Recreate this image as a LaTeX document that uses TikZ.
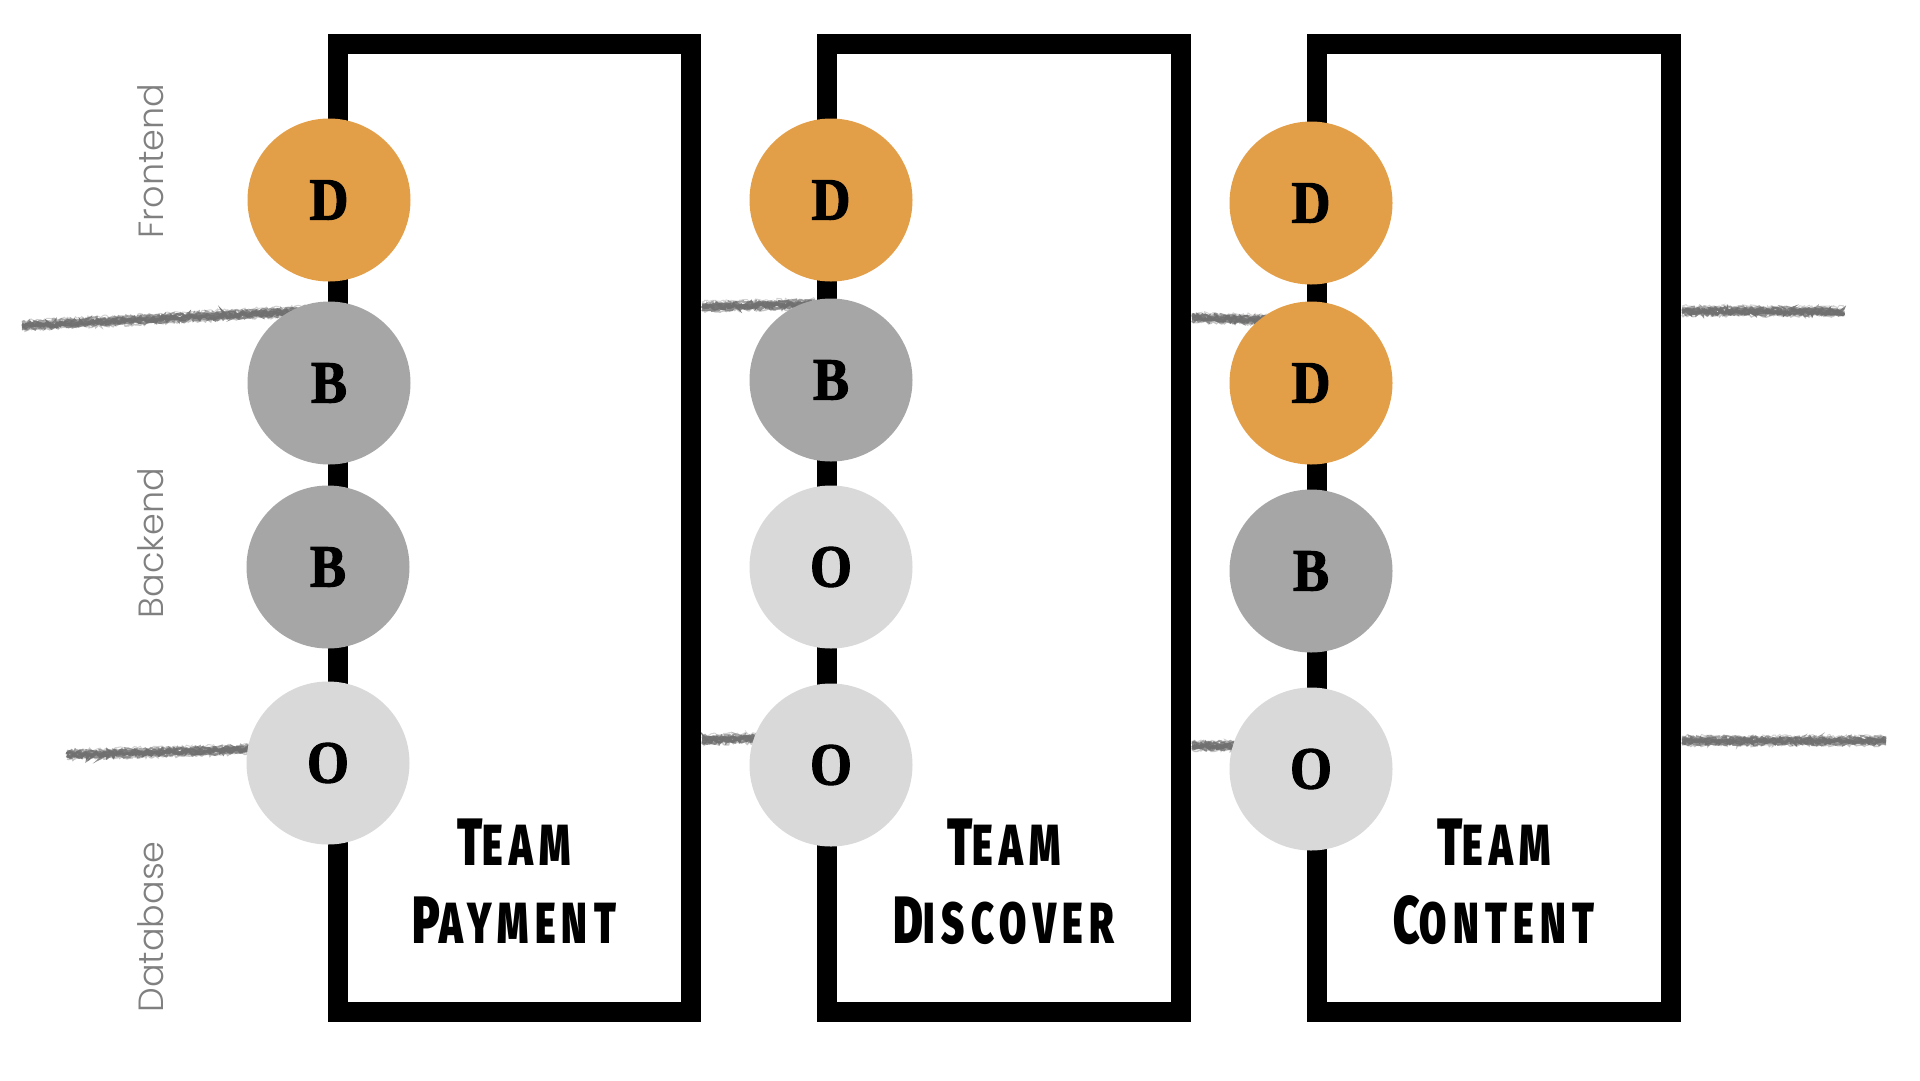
\documentclass[tikz,border=0pt]{standalone}
\usepackage{fontspec}
\usetikzlibrary{decorations.pathmorphing}
\setmainfont{Liberation Serif}
\IfFontExistsTF{Poppins Light}{\newfontfamily\labelfont{Poppins Light}\def\labelsize{35}}{%
  \IfFontExistsTF{Lato Light}{\newfontfamily\labelfont{Lato Light}\def\labelsize{38.5}}{%
    \newfontfamily\labelfont{Lato}\def\labelsize{38.5}}}
\IfFontExistsTF{Fira Sans Black}{\newfontfamily\teamfont[FakeStretch=0.68,LetterSpace=11]{Fira Sans Black}}{%
  \newfontfamily\teamfont[FakeStretch=0.7,FakeBold=1.5,LetterSpace=11]{Fira Sans Bold}}
\newfontfamily\letterfont[FakeStretch=0.9,FakeBold=1.8]{Liberation Serif Bold}
\definecolor{devcol}{RGB}{227,158,72}
\definecolor{backcol}{RGB}{166,166,166}
\definecolor{opscol}{RGB}{217,217,217}
\definecolor{brushgray}{RGB}{112,112,112}
\definecolor{labelgray}{RGB}{128,128,128}
\newcommand\tcap[1]{{\fontsize{67}{67}\selectfont #1}}
\newcommand\brushline[2]{%
  \foreach \dy/\lw/\op in {-5/1/0.3,-3.5/2/0.6,-2/2.5/0.85,-0.5/3/0.95,1/3/0.95,2.5/2.5/0.75,4/1.5/0.4}{%
    \draw[brushgray, line width=\lw pt, opacity=\op, shift={(0,\dy)},
      decorate, decoration={random steps, segment length=2pt, amplitude=1.6pt}]
      #1 -- #2;}}
\tikzset{
  member/.style={circle, minimum size=163pt, inner sep=0pt, text=black,
    font=\letterfont\fontsize{60}{60}\selectfont},
  devnode/.style={member, fill=devcol},
  backnode/.style={member, fill=backcol},
  opsnode/.style={member, fill=opscol},
  teambox/.style={draw=black, line width=20pt, minimum width=353.5pt,
    minimum height=968.3pt, inner sep=0pt},
  teamtext/.style={font=\teamfont\fontsize{58}{58}\selectfont,
    text=black, inner sep=0pt, anchor=base},
  layerlabel/.style={font=\labelfont\fontsize{\labelsize}{\labelsize}\selectfont,
    text=labelgray, rotate=90, inner sep=0pt}
}
\begin{document}
\begin{tikzpicture}[x=1pt, y=-1pt]
\pgfmathsetseed{7}
\useasboundingbox (0,0) rectangle (1920,1080);
\fill[white] (0,0) rectangle (1920,1080);
% brush strokes
\brushline{(22,326)}{(310,311)}
\brushline{(702,307)}{(815,304)}
\brushline{(1192,318)}{(1280,320)}
\brushline{(1682,311)}{(1843,312)}
\brushline{(67,755)}{(270,749)}
\brushline{(702,740)}{(770,738)}
\brushline{(1192,746)}{(1250,746)}
\brushline{(1682,741)}{(1886,741)}
% boxes
\node[teambox] (box1) at (514.25,527.85) {};
\node[teambox] (box2) at (1003.75,527.85) {};
\node[teambox] (box3) at (1493.75,527.85) {};
% team names
\node[teamtext] (t1a) at (514,865) {\tcap{T}EAM};
\node[teamtext] (t1b) at (514,943) {\tcap{P}AYMENT};
\node[teamtext] (t2a) at (1004,865) {\tcap{T}EAM};
\node[teamtext] (t2b) at (1004,943) {\tcap{D}ISCOVER};
\node[teamtext] (t3a) at (1494,865) {\tcap{T}EAM};
\node[teamtext] (t3b) at (1494,943) {\tcap{C}ONTENT};
% members
\node[devnode]  (p1) at (329,200) {D};
\node[backnode] (p2) at (329,383) {B};
\node[backnode] (p3) at (328,567) {B};
\node[opsnode]  (p4) at (328,763) {O};
\node[devnode]  (d1) at (831,200) {D};
\node[backnode] (d2) at (831,380) {B};
\node[opsnode]  (d3) at (831,567) {O};
\node[opsnode]  (d4) at (831,765) {O};
\node[devnode]  (c1) at (1311,203) {D};
\node[devnode]  (c2) at (1311,383) {D};
\node[backnode] (c3) at (1311,571) {B};
\node[opsnode]  (c4) at (1311,769) {O};
% layer labels
\node[layerlabel] (lf) at (151,161) {Frontend};
\node[layerlabel] (lb) at (151,543) {Backend};
\node[layerlabel] (ld) at (151,927) {Database};
\end{tikzpicture}
\end{document}
